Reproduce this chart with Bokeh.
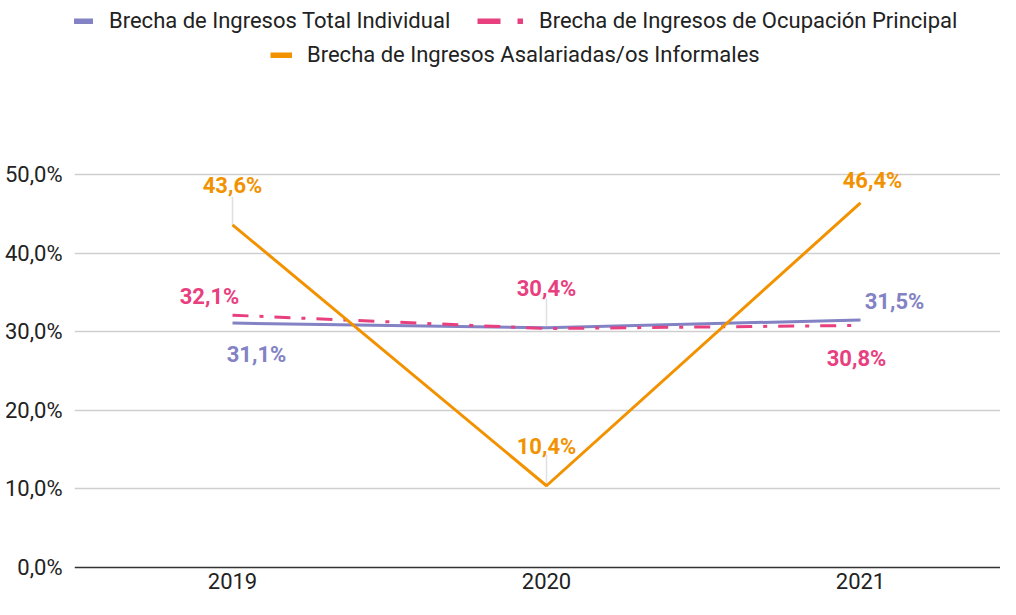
from bokeh.plotting import figure
from bokeh.models import ColumnDataSource, FixedTicker, Legend, LegendItem, Range1d
from bokeh.core.properties import value
from bokeh.embed import file_html
from bokeh.resources import INLINE

# ---- data ----
years = [2019, 2020, 2021]
total_individual = [31.1, 30.5, 31.5]
ocupacion_principal = [32.1, 30.4, 30.8]
asalariadas_informales = [43.6, 10.4, 46.4]
y_ticks = [0, 10, 20, 30, 40, 50]
series_names = [
    "Brecha de Ingresos Total Individual",
    "Brecha de Ingresos de Ocupación Principal",
    "Brecha de Ingresos Asalariadas/os Informales",
]

# ---- styles ----
PURPLE = "#8282C4"
PINK = "#E8407F"
ORANGE = "#F29200"
TEXT = "#222222"
FONT = "Roboto"
FS = "22px"

def fmt(v):
    return f"{v:.1f}".replace(".", ",") + "%"

W, H = 1000, 599
LEFT = 74
ZERO_Y = 567      # pixel row of the 0 % line
TOP50_Y = 174     # pixel row of the 50 % line
PX_PER_UNIT = (ZERO_Y - TOP50_Y) / 50
x_start = 2019 - 158 / 314
x_end = x_start + (W - LEFT) / 314
y_end = 50 + TOP50_Y / PX_PER_UNIT
y_start = -(H - ZERO_Y) / PX_PER_UNIT

p = figure(width=W, height=H, output_backend="svg", toolbar_location=None,
           x_range=Range1d(x_start, x_end), y_range=Range1d(y_start, y_end),
           min_border_left=LEFT, min_border_right=0, min_border_top=0, min_border_bottom=0)
p.outline_line_color = None
p.background_fill_color = "white"
p.border_fill_color = "white"

# x axis drawn at the 0 % line
xa = p.xaxis[0]
xa.fixed_location = 0
xa.ticker = FixedTicker(ticks=years)
xa.major_label_overrides = {y: str(y) for y in years}
xa.major_tick_line_color = None
xa.minor_tick_line_color = None
xa.major_tick_out = 0
xa.minor_tick_out = 0
xa.axis_line_color = "#333333"
xa.axis_line_width = 1.5
xa.major_label_text_font = FONT
xa.major_label_text_font_size = FS
xa.major_label_text_color = TEXT
xa.major_label_standoff = 5

ya = p.yaxis[0]
ya.ticker = FixedTicker(ticks=y_ticks)
ya.major_label_overrides = {t: fmt(t) for t in y_ticks}
ya.axis_line_color = None
ya.major_tick_line_color = None
ya.minor_tick_line_color = None
ya.major_tick_out = 0
ya.minor_tick_out = 0
ya.major_label_text_font = FONT
ya.major_label_text_font_size = FS
ya.major_label_text_color = TEXT
ya.major_label_standoff = 12

p.xgrid.grid_line_color = None
p.ygrid.ticker = FixedTicker(ticks=y_ticks[1:])
p.ygrid.grid_line_color = "#cfcfcf"
p.ygrid.grid_line_width = 1.3

# leader lines (label connectors)
leader_src = ColumnDataSource(dict(
    x=[years[0], years[1], years[1]],
    y0=[asalariadas_informales[0], ocupacion_principal[1], asalariadas_informales[1]],
))
leader_len_px = [28, 30, 31]
leader_src.data["y1"] = [a + b / PX_PER_UNIT for a, b in zip(leader_src.data["y0"], leader_len_px)]
p.segment(x0="x", y0="y0", x1="x", y1="y1", source=leader_src,
          line_color="#e0e0e0", line_width=1.5)

# lines
r1 = p.line(years, total_individual, line_color=PURPLE, line_width=3)
r2 = p.line(years, ocupacion_principal, line_color=PINK, line_width=3, line_dash="16 11 4 11")
r3 = p.line(years, asalariadas_informales, line_color=ORANGE, line_width=3)

# data labels
lab_x, lab_y, lab_t, lab_c, lab_xo, lab_yo = [], [], [], [], [], []
offsets = {
    0: [(24, 31), None, (34, -18)],
    1: [(-23, -19), (0, -40), (-4, 33)],
    2: [(0, -39), (0, -39), (12, -22)],
}
colors = [PURPLE, PINK, ORANGE]
for si, vals in enumerate([total_individual, ocupacion_principal, asalariadas_informales]):
    for yi, v in enumerate(vals):
        off = offsets[si][yi]
        if off is None:
            continue
        lab_x.append(years[yi]); lab_y.append(v); lab_t.append(fmt(v))
        lab_c.append(colors[si]); lab_xo.append(off[0]); lab_yo.append(off[1])
lab_src = ColumnDataSource(dict(x=lab_x, y=lab_y, t=lab_t, c=lab_c, xo=lab_xo, yo=lab_yo))
p.text(x="x", y="y", text="t", source=lab_src, text_color="c", x_offset="xo", y_offset="yo",
       text_align="center", text_baseline="middle", text_font=value(FONT),
       text_font_style="bold", text_font_size=FS)

# legend (off-screen dummy renderers for thick legend glyphs)
nan = float("nan")
def dummy(**kw):
    return p.line(x=[nan], y=[nan], **kw)
g1 = dummy(line_color=PURPLE, line_width=6)
g2 = dummy(line_color=PINK, line_width=6, line_dash="23 17 6")
g3 = dummy(line_color=ORANGE, line_width=6)

def make_legend(name, rend, loc, gw, standoff):
    lg = Legend(items=[LegendItem(label=name, renderers=[rend])], location=loc,
                orientation="horizontal", glyph_width=gw, glyph_height=6,
                label_standoff=standoff, label_height=20, padding=0, margin=0, spacing=0,
                border_line_color=None, background_fill_alpha=0,
                label_text_font=FONT, label_text_font_size=FS, label_text_color=TEXT)
    p.add_layout(lg, "center")

make_legend(series_names[0], g1, (-2, 566), 21, 16)
make_legend(series_names[1], g2, (403, 566), 46, 16)
make_legend(series_names[2], g3, (196, 532), 22, 15)

open("out.html", "w").write(file_html(p, INLINE))
